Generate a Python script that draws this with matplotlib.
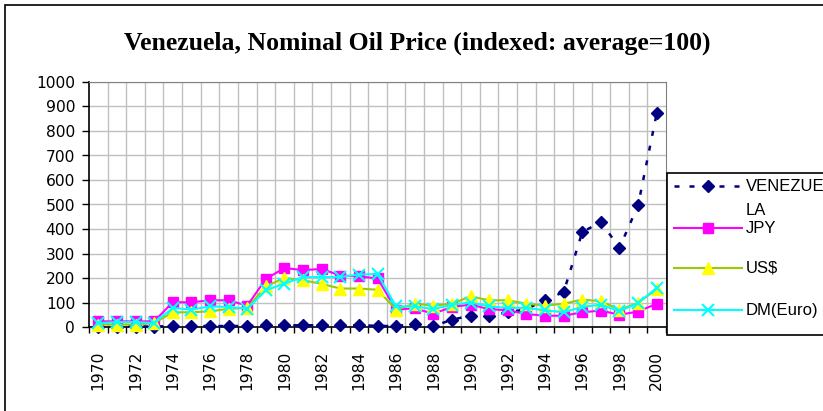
import matplotlib
matplotlib.use("Agg")
import matplotlib.pyplot as plt
from matplotlib.lines import Line2D
from matplotlib.patches import Rectangle

years = list(range(1970, 2001))
venezuela = [2, 2, 2, 2, 4, 4, 4, 4, 4, 7, 7, 7, 7, 7, 7, 5, 3, 14, 3, 30, 46, 46, 60, 72, 112, 142, 387, 429, 323, 497, 872]
jpy = [23, 23, 23, 23, 101, 101, 109, 109, 87, 196, 241, 232, 237, 210, 207, 198, 71, 76, 54, 82, 91, 73, 68, 53, 46, 46, 60, 67, 50, 63, 95]
usd = [10, 10, 10, 16, 60, 60, 64, 74, 78, 166, 200, 191, 176, 157, 157, 152, 71, 95, 87, 95, 125, 109, 109, 95, 87, 95, 112, 105, 71, 98, 155]
dm = [16, 20, 20, 16, 78, 71, 84, 82, 74, 150, 177, 204, 204, 204, 214, 216, 84, 84, 73, 91, 100, 84, 78, 78, 68, 60, 82, 91, 64, 98, 160]
title = "Venezuela, Nominal Oil Price (indexed: average=100)"
yticks = list(range(0, 1001, 100))

W, H = 823, 411
fig = plt.figure(figsize=(W / 100, H / 100), dpi=100)
fig.patch.set_facecolor("white")

def fx(px):
    return px / W

def fy(py):
    return 1 - py / H

# outer chart border
fig.add_artist(Rectangle((fx(5), fy(420)), fx(840) - fx(5), fy(5) - fy(420),
                         transform=fig.transFigure, fill=False, edgecolor="black", lw=1.2))

ax = fig.add_axes([fx(89), fy(327), fx(666) - fx(89), fy(82) - fy(327)])
x = list(range(len(years)))

ax.set_xlim(-0.5, len(years) - 0.5)
ax.set_ylim(0, 1000)
ax.set_yticks(yticks)
ax.set_yticklabels([str(v) for v in yticks])
ax.set_xticks(x[::2])
ax.set_xticklabels([str(y) for y in years[::2]], rotation=90)
ax.set_xticks([i + 0.5 for i in range(-1, len(years))], minor=True)
ax.tick_params(axis="x", which="major", length=0, pad=17)
ax.tick_params(axis="x", which="minor", length=4, width=1, color="black", direction="out")
ax.tick_params(axis="y", which="major", length=5, width=1, direction="out", pad=5)
for lab in ax.get_xticklabels() + ax.get_yticklabels():
    lab.set_fontfamily("DejaVu Sans")
    lab.set_fontsize(11.2)

ax.grid(False)
for v in yticks[1:]:
    ax.axhline(v, color="#c0c0c0", lw=1, zorder=0)
for i in range(len(years) - 1):
    ax.axvline(i + 0.5, color="#c0c0c0", lw=1, zorder=0)

for s in ["top", "right"]:
    ax.spines[s].set_color("#808080")
for s in ["left", "bottom"]:
    ax.spines[s].set_color("black")
    ax.spines[s].set_linewidth(1.2)

ax.plot(x, venezuela, color="#000080", lw=1.8, dashes=(2, 4), marker="D", ms=6.5,
        mfc="#000080", mec="#000080", zorder=3, clip_on=False)
ax.plot(x, jpy, color="#ff00ff", lw=1.5, marker="s", ms=7, mfc="#ff00ff", mec="#ff00ff",
        zorder=4, clip_on=False)
ax.plot(x, usd, color="#99cc00", lw=1.5, marker="^", ms=8, mfc="#ffff00", mec="#ffff00",
        zorder=5, clip_on=False)
ax.plot(x, dm, color="#00ffff", lw=1.5, marker="x", ms=8, mew=1.5, mec="#00ffff",
        zorder=6, clip_on=False)

fig.text(fx(417), fy(43), title, ha="center", va="center", fontsize=18.5,
         fontweight="bold", family="Liberation Serif")

# legend (manual, clipped at figure edge like the reference)
fig.add_artist(Rectangle((fx(667), fy(335)), fx(900) - fx(667), fy(173) - fy(335),
                         transform=fig.transFigure, fill=True, facecolor="white",
                         edgecolor="black", lw=1.2))
entries = [
    (186, dict(color="#000080", lw=1.8, dashes=(2, 4), marker="D", ms=6.5, mfc="#000080", mec="#000080"), "VENEZUE"),
    (228, dict(color="#ff00ff", lw=1.5, marker="s", ms=7, mfc="#ff00ff", mec="#ff00ff"), "JPY"),
    (268, dict(color="#99cc00", lw=1.5, marker="^", ms=8, mfc="#ffff00", mec="#ffff00"), "US$"),
    (310, dict(color="#00ffff", lw=1.5, marker="x", ms=8, mew=1.5, mec="#00ffff"), "DM(Euro)"),
]
for py, style, label in entries:
    ln = Line2D([fx(674), fx(708), fx(742)], [fy(py)] * 3, transform=fig.transFigure,
                markevery=[1], **style)
    fig.add_artist(ln)
    fig.text(fx(746), fy(py), label, ha="left", va="center", fontsize=12,
             family="Liberation Sans")
fig.text(fx(746), fy(210), "LA", ha="left", va="center", fontsize=12, family="Liberation Sans")

fig.savefig("out.png", dpi=100, facecolor="white")
